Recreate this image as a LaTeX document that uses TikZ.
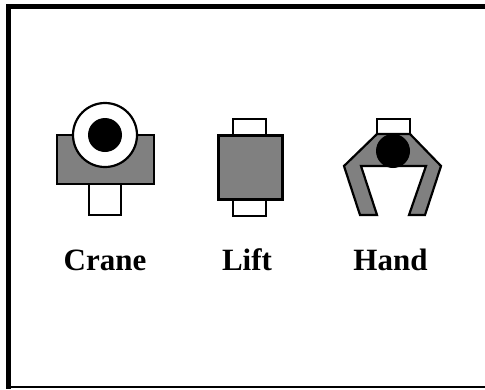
\documentclass[tikz,border=0pt]{standalone}
\usepackage{fontspec}
\setmainfont{Liberation Serif}
\usepackage{tikz}

\begin{document}
\begin{tikzpicture}[
  x=1pt, y=-1pt,
  part/.style={draw=black, line width=2.2pt, fill=white},
  body/.style={draw=black, line width=2.2pt, fill=black!50},
  ring/.style={circle, draw=black, line width=2.2pt, fill=white, inner sep=0pt, minimum size=64pt},
  joint/.style={circle, fill=black, inner sep=0pt, minimum size=34pt},
  tag/.style={font=\fontsize{31}{33}\selectfont\bfseries, inner sep=0pt, anchor=base}
]
  \useasboundingbox (0,0) rectangle (485,389);
  % Frame
  \fill[black] (5.5,3.5) rectangle (485,9);
  \fill[black] (5.5,3.5) rectangle (11,389);
  \fill[black] (11,386) rectangle (485,387.5);

  % Crane
  \draw[part] (89,184) rectangle (121,215);
  \draw[body] (57,135) rectangle (154,184);
  \node[ring] (craneRing) at (105,135) {};
  \node[joint] (craneJoint) at (105,135) {};
  \node[tag] (craneLabel) at (105,270) {Crane};

  % Lift
  \draw[part] (233,119) rectangle (266,216);
  \draw[body, line width=3pt] (218,135) rectangle (282,199);
  \node[tag] (liftLabel) at (247,270) {Lift};

  % Hand
  \draw[part] (377,119) rectangle (410,135);
  \draw[body] (377,134) -- (344,166) -- (360,215) -- (377,215) -- (361,166)
    -- (426,166) -- (409,215) -- (425,215) -- (441,166) -- (410,134) -- cycle;
  \node[joint] (handJoint) at (393,151) {};
  \node[tag] (handLabel) at (390.5,270) {Hand};
\end{tikzpicture}
\end{document}
